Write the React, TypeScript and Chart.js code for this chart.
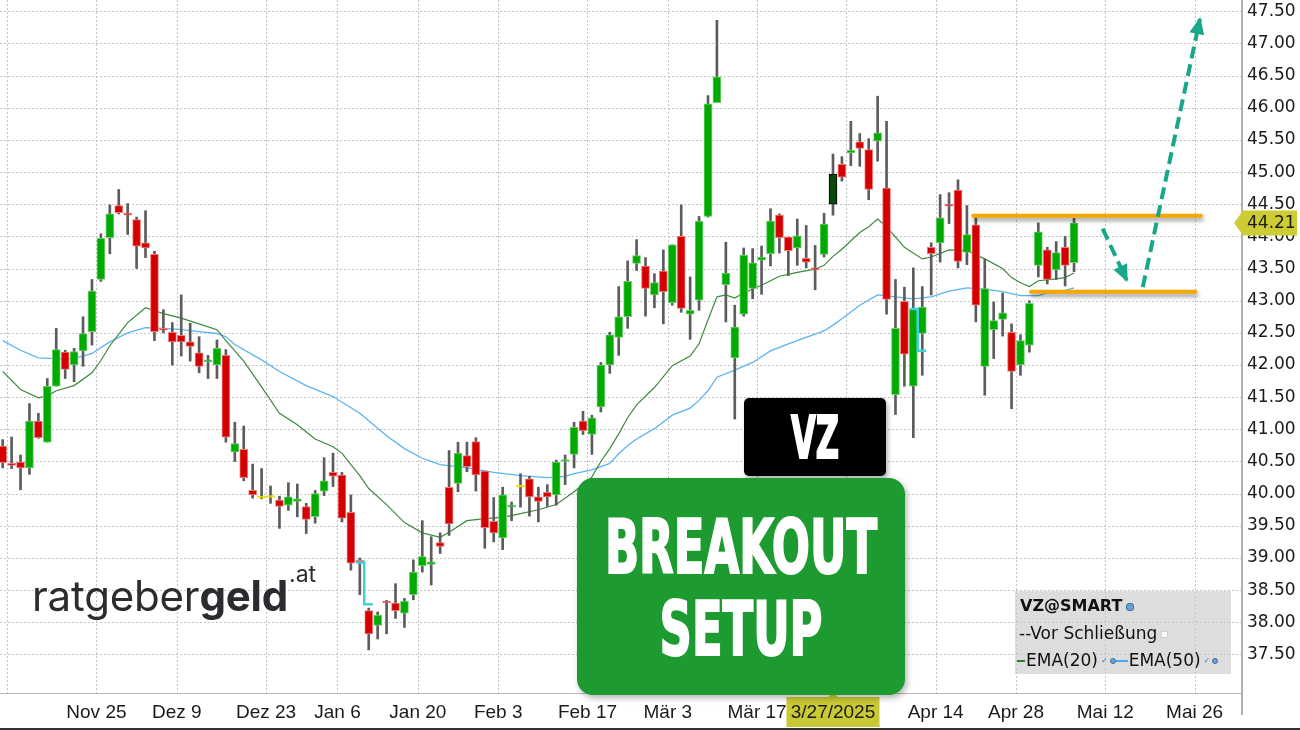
import React, { useEffect, useLayoutEffect, useRef, useState } from 'react';
import { Chart, registerables } from 'chart.js';

Chart.register(...registerables);

// Daily OHLC, index 0 = 8 Nov 2024 ... index 120 = 6 May 2025 (trading days)
const openP = [
  40.74, 40.47, 40.49, 40.40, 41.13, 40.80, 41.67, 42.20, 42.00, 42.22,
  42.52, 43.33, 43.98, 44.48, 44.36, 44.26, 43.90, 43.72, 42.57, 42.51,
  42.46, 42.36, 42.19, 42.05, 42.00, 42.15, 40.65, 40.69, 40.05, 39.93,
  39.94, 39.90, 39.82, 39.88, 39.80, 39.64, 40.04, 40.33, 40.29, 39.71,
  38.95, 38.18, 37.95, 38.33, 38.30, 38.14, 38.43, 38.88, 38.90, 39.24,
  40.10, 40.16, 40.59, 40.81, 40.35, 39.57, 39.31, 39.79, 40.10, 40.23,
  39.95, 40.02, 39.98, 40.50, 40.61, 41.13, 40.92, 41.35, 42.00, 42.43,
  42.75, 43.58, 43.54, 43.09, 43.46, 42.97, 44.00, 42.79, 43.01, 44.31,
  46.08, 43.25, 42.11, 42.79, 43.19, 43.63, 43.73, 44.33, 43.99, 43.82,
  43.66, 43.50, 43.72, 44.50, 45.12, 45.30, 45.47, 45.35, 45.48, 44.75,
  41.54, 42.99, 41.67, 42.49, 43.83, 43.90, 44.49, 44.72, 43.75, 44.18,
  41.98, 42.55, 42.71, 42.51, 42.00, 42.31, 43.55, 43.79, 43.48, 43.83,
  43.59,
];
const highP = [
  40.84, 40.88, 40.60, 41.40, 41.25, 41.79, 42.57, 42.23, 42.26, 42.75,
  43.33, 44.04, 44.49, 44.73, 44.51, 44.30, 44.40, 43.77, 42.86, 42.66,
  43.09, 42.65, 42.44, 42.15, 42.39, 42.24, 41.11, 41.05, 40.46, 40.39,
  40.12, 39.96, 40.17, 40.15, 39.85, 40.05, 40.56, 40.63, 40.33, 39.98,
  39.00, 38.22, 38.16, 38.34, 38.60, 38.37, 38.97, 39.58, 39.33, 39.39,
  40.67, 40.80, 40.80, 40.87, 40.35, 39.94, 40.10, 39.87, 40.31, 40.27,
  40.10, 40.14, 40.52, 40.60, 41.11, 41.28, 41.22, 42.04, 42.51, 43.22,
  43.62, 43.95, 43.67, 43.42, 43.79, 43.87, 44.49, 43.37, 44.31, 46.19,
  47.36, 43.91, 42.93, 43.82, 43.81, 43.85, 44.43, 44.35, 43.99, 44.27,
  44.17, 43.86, 44.36, 45.28, 45.24, 45.79, 45.60, 45.52, 46.18, 45.79,
  43.33, 43.21, 43.51, 43.22, 43.90, 44.65, 44.68, 44.88, 44.48, 44.29,
  43.65, 42.98, 43.12, 42.64, 42.47, 43.00, 44.21, 43.83, 43.92, 44.00,
  44.28,
];
const lowP = [
  40.40, 40.39, 40.06, 40.30, 40.86, 40.80, 41.67, 41.79, 41.74, 41.98,
  42.31, 43.30, 43.73, 44.35, 44.03, 43.50, 43.67, 42.38, 42.50, 42.00,
  42.14, 42.06, 41.88, 41.79, 41.79, 40.80, 40.50, 40.20, 39.93, 39.92,
  39.85, 39.46, 39.74, 39.64, 39.38, 39.54, 39.97, 40.11, 39.56, 38.81,
  38.43, 37.57, 37.74, 37.82, 38.06, 37.92, 38.35, 38.78, 38.58, 39.07,
  39.35, 40.03, 40.34, 40.04, 39.15, 39.25, 39.13, 39.58, 39.79, 39.65,
  39.56, 39.80, 39.82, 40.14, 40.40, 40.92, 40.61, 41.27, 41.87, 42.15,
  42.57, 43.47, 42.76, 42.89, 42.64, 42.93, 42.82, 42.40, 42.85, 44.30,
  46.08, 42.67, 41.16, 42.76, 43.03, 43.10, 43.54, 43.74, 43.39, 43.55,
  43.51, 43.17, 43.68, 44.33, 44.86, 45.10, 45.09, 44.57, 45.17, 42.79,
  41.23, 41.67, 40.87, 41.84, 43.09, 43.60, 44.20, 43.51, 43.56, 42.67,
  41.53, 42.10, 42.45, 41.32, 41.84, 42.20, 43.37, 43.26, 43.33, 43.23,
  43.45,
];
const closeP = [
  40.48, 40.44, 40.40, 41.13, 40.87, 41.67, 42.24, 41.93, 42.21, 42.49,
  43.15, 43.97, 44.35, 44.37, 44.33, 43.85, 43.82, 42.52, 42.54, 42.36,
  42.36, 42.29, 41.98, 42.07, 42.26, 40.88, 40.78, 40.25, 39.98, 39.93,
  39.94, 39.80, 39.95, 39.92, 39.60, 40.00, 40.20, 40.27, 39.62, 38.92,
  38.93, 37.82, 38.11, 38.30, 38.18, 38.33, 38.78, 39.02, 38.94, 39.18,
  39.53, 40.63, 40.42, 40.29, 39.47, 39.39, 39.98, 39.81, 40.10, 39.95,
  39.88, 39.95, 40.49, 40.53, 41.03, 40.98, 41.18, 42.00, 42.47, 42.75,
  43.30, 43.70, 43.19, 43.28, 43.14, 43.87, 42.88, 42.85, 44.24, 46.06,
  46.48, 43.43, 42.59, 43.71, 43.59, 43.68, 44.24, 43.98, 43.78, 44.01,
  43.60, 43.48, 44.19, 44.97, 44.92, 45.34, 45.37, 44.73, 45.61, 43.02,
  42.57, 42.17, 42.87, 42.90, 43.73, 44.29, 44.47, 43.61, 44.03, 42.93,
  43.19, 42.69, 42.81, 41.90, 42.38, 42.96, 44.07, 43.33, 43.75, 43.55,
  44.21,
];

// x-axis: grid/label positions (trading-day index) and their labels
const tickIdx = [1, 11, 20, 30, 38, 47, 56, 66, 75, 85, 95, 105, 114, 124, 134];
const tickLabels = ['', 'Nov 25', 'Dez 9', 'Dez 23', 'Jan 6', 'Jan 20', 'Feb 3', 'Feb 17', 'Mär 3', 'Mär 17', '', 'Apr 14', 'Apr 28', 'Mai 12', 'Mai 26'];
const priceTicks = [37.5, 38, 38.5, 39, 39.5, 40, 40.5, 41, 41.5, 42, 42.5, 43, 43.5, 44, 44.5, 45, 45.5, 46, 46.5, 47, 47.5];

// EMA readings (trading-day index, value)
const ema20Idx = [0, 2, 4, 5, 6, 8, 10, 11, 12, 14, 16, 18, 20, 22, 24, 25, 27, 29, 31, 33, 35, 37, 38, 39, 40, 41, 43, 45, 47, 49, 50, 52, 54, 56, 58, 60, 62, 64, 66, 67, 68, 69, 70, 71, 73, 75, 77, 78, 79, 80, 81, 82, 83, 85, 87, 89, 91, 92, 93, 94, 96, 97, 98, 99, 101, 103, 104, 106, 108, 110, 112, 113, 114, 115, 116, 118, 119, 120];
const ema20Val = [41.90, 41.62, 41.49, 41.52, 41.60, 41.68, 41.88, 42.07, 42.30, 42.66, 42.89, 42.80, 42.73, 42.64, 42.55, 42.38, 42.06, 41.66, 41.25, 41.07, 40.85, 40.73, 40.63, 40.45, 40.28, 40.08, 39.83, 39.55, 39.39, 39.32, 39.40, 39.58, 39.61, 39.63, 39.69, 39.75, 39.83, 40.03, 40.26, 40.50, 40.70, 40.93, 41.18, 41.38, 41.65, 41.99, 42.14, 42.33, 42.70, 43.06, 43.09, 43.04, 43.12, 43.24, 43.38, 43.44, 43.49, 43.55, 43.69, 43.80, 44.06, 44.15, 44.27, 44.15, 43.83, 43.65, 43.68, 43.79, 43.78, 43.65, 43.50, 43.36, 43.28, 43.22, 43.31, 43.34, 43.36, 43.43];
const ema50Idx = [0, 2, 4, 6, 8, 10, 12, 14, 16, 18, 20, 22, 24, 25, 26, 29, 31, 34, 37, 40, 43, 45, 47, 49, 52, 55, 58, 61, 63, 64, 66, 68, 69, 70, 71, 73, 75, 77, 78, 79, 80, 82, 84, 86, 88, 90, 92, 93, 94, 96, 98, 100, 102, 104, 106, 108, 110, 112, 114, 116, 117, 119, 120];
const ema50Val = [42.38, 42.23, 42.11, 42.10, 42.10, 42.18, 42.36, 42.50, 42.58, 42.57, 42.55, 42.52, 42.49, 42.44, 42.32, 42.08, 41.90, 41.68, 41.51, 41.25, 40.90, 40.70, 40.55, 40.45, 40.40, 40.33, 40.28, 40.25, 40.27, 40.31, 40.37, 40.47, 40.62, 40.75, 40.85, 41.01, 41.22, 41.33, 41.45, 41.60, 41.81, 41.92, 42.04, 42.22, 42.33, 42.43, 42.53, 42.62, 42.72, 42.93, 43.09, 43.06, 43.03, 43.06, 43.15, 43.20, 43.18, 43.14, 43.08, 43.08, 43.12, 43.16, 43.20];

// Dividend gap markers (ex-date index, amount)
const divIdx = [41, 103];
const divAmt = [0.65, 0.65];

// selected date
const highlightIdx = 93;
const highlightLabel = '3/27/2025';

// drawn levels and arrows (index, price)
const resistanceLevel = 44.32;
const resistanceRange = [108.7, 134.2];
const supportLevel = 43.14;
const supportRange = [115.2, 133.6];
const arrowDownIdx = [123.2, 125.9];
const arrowDownVal = [44.12, 43.32];
const arrowUpIdx = [127.7, 134.1];
const arrowUpVal = [43.21, 47.38];

const xMin = -0.3;
const xMax = 138.7;
const yMin = 36.9;
const yMax = 47.676;

const HEAVY = '"DejaVu Sans Condensed", "DejaVu Sans", sans-serif';

function FitText({ text, width, top, size }: { text: string; width: number; top: number; size: number }) {
  const ref = useRef<HTMLSpanElement>(null);
  const [sx, setSx] = useState(1);
  useLayoutEffect(() => {
    if (ref.current && ref.current.offsetWidth > 0) setSx(width / ref.current.offsetWidth);
  }, [text, width]);
  return (
    <span
      ref={ref}
      style={{
        position: 'absolute',
        left: '50%',
        top,
        transform: `translateX(-50%) scaleX(${sx})`,
        transformOrigin: 'center',
        whiteSpace: 'nowrap',
        fontFamily: HEAVY,
        fontStretch: 'condensed',
        fontWeight: 700,
        fontSize: size,
        lineHeight: 1,
        color: '#ffffff',
        WebkitTextStroke: '2px #ffffff',
      }}
    >
      {text}
    </span>
  );
}

export default function App() {
  const canvasRef = useRef<HTMLCanvasElement>(null);

  useEffect(() => {
    document.body.style.margin = '0';
    const canvas = canvasRef.current;
    if (!canvas) return;
    const idx = closeP.map((_, i) => i);
    const fill = (i: number) =>
      i === highlightIdx ? '#0c4a0c' : closeP[i] > openP[i] ? '#00aa00' : closeP[i] < openP[i] ? '#d40000' : '#f0e000';
    const edge = (i: number) =>
      i === highlightIdx ? '#050505' : closeP[i] > openP[i] ? '#6ccf6c' : closeP[i] < openP[i] ? '#ee7b7b' : '#f0e000';

    const divSets = divIdx.map((d, j) => {
      const pc = closeP[d - 1];
      const adj = pc - divAmt[j];
      return {
        type: 'line',
        label: 'div',
        data: [
          { x: d - 1.4, y: pc },
          { x: d - 0.5, y: pc },
          { x: d - 0.5, y: adj },
          { x: d + 0.45, y: adj },
        ],
        borderColor: '#3ed2de',
        borderWidth: 2.5,
        pointRadius: 0,
        order: 2,
      };
    });

    const deco = {
      id: 'deco',
      beforeDatasetsDraw(chart: any) {
        const { ctx, chartArea: a, scales } = chart;
        const x = scales.x;
        const y = scales.y;
        ctx.save();
        ctx.strokeStyle = '#c4c4c4';
        ctx.lineWidth = 1;
        ctx.setLineDash([2, 2]);
        for (const v of priceTicks) {
          const py = Math.round(y.getPixelForValue(v)) + 0.5;
          ctx.beginPath();
          ctx.moveTo(a.left, py);
          ctx.lineTo(a.right, py);
          ctx.stroke();
        }
        for (const k of tickIdx) {
          const px = Math.round(x.getPixelForValue(k - 0.5)) + 0.5;
          ctx.beginPath();
          ctx.moveTo(px, a.top);
          ctx.lineTo(px, a.bottom);
          ctx.stroke();
        }
        ctx.restore();
      },
      beforeDatasetDraw(chart: any, args: any) {
        const ds = chart.data.datasets[args.index];
        if (ds.label === 'level') {
          const c = chart.ctx;
          c.save();
          c.shadowColor = 'rgba(0,0,0,0.4)';
          c.shadowBlur = 4;
          c.shadowOffsetX = 1;
          c.shadowOffsetY = 3;
        }
      },
      afterDatasetDraw(chart: any, args: any) {
        const ds = chart.data.datasets[args.index];
        const c = chart.ctx;
        if (ds.label === 'level') c.restore();
        if (ds.label === 'arrow') {
          const pts = args.meta.data;
          const p1 = pts[pts.length - 2];
          const p2 = pts[pts.length - 1];
          const ang = Math.atan2(p2.y - p1.y, p2.x - p1.x);
          const L = 15;
          const W = 7.5;
          c.save();
          c.fillStyle = ds.borderColor;
          c.beginPath();
          c.moveTo(p2.x + 2 * Math.cos(ang), p2.y + 2 * Math.sin(ang));
          c.lineTo(p2.x - L * Math.cos(ang) + W * Math.sin(ang), p2.y - L * Math.sin(ang) - W * Math.cos(ang));
          c.lineTo(p2.x - L * Math.cos(ang) - W * Math.sin(ang), p2.y - L * Math.sin(ang) + W * Math.cos(ang));
          c.closePath();
          c.fill();
          c.restore();
        }
      },
      afterDraw(chart: any) {
        const { ctx, chartArea: a, scales } = chart;
        const x = scales.x;
        const y = scales.y;
        ctx.save();
        ctx.strokeStyle = '#b8b8b8';
        ctx.lineWidth = 1;
        ctx.beginPath();
        ctx.moveTo(a.left, a.bottom + 0.5);
        ctx.lineTo(a.right, a.bottom + 0.5);
        ctx.stroke();
        ctx.lineWidth = 2;
        ctx.strokeStyle = '#b0b0b0';
        ctx.beginPath();
        ctx.moveTo(a.right + 1, 0);
        ctx.lineTo(a.right + 1, a.bottom + 22);
        ctx.stroke();

        // current price label
        const last = closeP[closeP.length - 1];
        const py = y.getPixelForValue(last);
        const tip = a.right - 7;
        ctx.fillStyle = '#cccc34';
        ctx.beginPath();
        ctx.moveTo(tip, py);
        ctx.lineTo(tip + 9, py - 12.5);
        ctx.lineTo(1297, py - 12.5);
        ctx.lineTo(1297, py + 12.5);
        ctx.lineTo(tip + 9, py + 12.5);
        ctx.closePath();
        ctx.fill();
        ctx.fillStyle = '#1a1a1a';
        ctx.font = '17px "DejaVu Sans"';
        ctx.textAlign = 'left';
        ctx.textBaseline = 'middle';
        ctx.fillText(last.toFixed(2), a.right + 6, py + 1);

        // selected date label
        const cx = x.getPixelForValue(highlightIdx);
        ctx.fillStyle = '#c9c935';
        ctx.fillRect(cx - 46.5, a.bottom + 4, 93, 30);
        ctx.beginPath();
        ctx.moveTo(cx - 5, a.bottom + 4);
        ctx.lineTo(cx, a.bottom);
        ctx.lineTo(cx + 5, a.bottom + 4);
        ctx.closePath();
        ctx.fill();
        ctx.fillStyle = '#1a1a1a';
        ctx.font = '19px "Liberation Sans", Arial, sans-serif';
        ctx.textAlign = 'center';
        ctx.fillText(highlightLabel, cx, a.bottom + 20);
        ctx.restore();
      },
    };

    const chart = new Chart(canvas, {
      type: 'bar',
      data: {
        datasets: [
          {
            type: 'line',
            label: 'ema20',
            data: ema20Idx.map((k, i) => ({ x: k, y: ema20Val[i] })),
            borderColor: '#3d8a3d',
            borderWidth: 1.2,
            pointRadius: 0,
            order: 8,
          },
          {
            type: 'line',
            label: 'ema50',
            data: ema50Idx.map((k, i) => ({ x: k, y: ema50Val[i] })),
            borderColor: '#5cb3f2',
            borderWidth: 1.3,
            pointRadius: 0,
            order: 9,
          },
          {
            type: 'bar',
            label: 'wick',
            data: idx.map((i) => ({ x: i, y: [lowP[i], highP[i]] })),
            backgroundColor: '#5c5c5c',
            barThickness: 2,
            grouped: false,
            order: 6,
          },
          {
            type: 'bar',
            label: 'body',
            data: idx.map((i) => ({ x: i, y: [openP[i], closeP[i]] })),
            backgroundColor: idx.map(fill),
            borderColor: idx.map(edge),
            borderWidth: 1,
            borderSkipped: false,
            barThickness: 8,
            minBarLength: 2,
            grouped: false,
            order: 5,
          },
          ...divSets,
          {
            type: 'line',
            label: 'level',
            data: resistanceRange.map((k) => ({ x: k, y: resistanceLevel })),
            borderColor: '#f5a800',
            borderWidth: 4,
            borderCapStyle: 'round',
            pointRadius: 0,
            order: 1,
          },
          {
            type: 'line',
            label: 'level',
            data: supportRange.map((k) => ({ x: k, y: supportLevel })),
            borderColor: '#f5a800',
            borderWidth: 4,
            borderCapStyle: 'round',
            pointRadius: 0,
            order: 1,
          },
          {
            type: 'line',
            label: 'arrow',
            data: arrowDownIdx.map((k, i) => ({ x: k, y: arrowDownVal[i] })),
            borderColor: '#17a88c',
            borderWidth: 4,
            borderDash: [12, 6],
            pointRadius: 0,
            order: 0,
          },
          {
            type: 'line',
            label: 'arrow',
            data: arrowUpIdx.map((k, i) => ({ x: k, y: arrowUpVal[i] })),
            borderColor: '#17a88c',
            borderWidth: 4,
            borderDash: [12, 6],
            pointRadius: 0,
            order: 0,
          },
        ] as any,
      },
      options: {
        animation: false,
        responsive: true,
        maintainAspectRatio: false,
        events: [],
        layout: { padding: 0 },
        plugins: { legend: { display: false }, tooltip: { enabled: false } },
        scales: {
          x: {
            type: 'linear',
            min: xMin,
            max: xMax,
            offset: false,
            grid: { display: false, drawTicks: false },
            border: { display: false },
            afterBuildTicks: (s: any) => {
              s.ticks = tickIdx.map((k) => ({ value: k - 0.5 }));
            },
            afterFit: (s: any) => {
              s.height = 37;
              s.paddingLeft = 0;
              s.paddingRight = 0;
            },
            ticks: {
              autoSkip: false,
              maxRotation: 0,
              minRotation: 0,
              padding: 8,
              color: '#1a1a1a',
              font: { family: '"Liberation Sans", Arial, sans-serif', size: 19 },
              callback: (_v: any, i: number) => tickLabels[i],
            },
          },
          y: {
            position: 'right',
            min: yMin,
            max: yMax,
            grid: { display: false, drawTicks: false },
            border: { display: false },
            afterBuildTicks: (s: any) => {
              s.ticks = priceTicks.map((v) => ({ value: v }));
            },
            afterFit: (s: any) => {
              s.width = 59;
              s.paddingTop = 0;
              s.paddingBottom = 0;
            },
            ticks: {
              padding: 6,
              color: '#1a1a1a',
              font: { family: '"DejaVu Sans", Verdana, sans-serif', size: 17 },
              callback: (v: any) => Number(v).toFixed(2),
            },
          },
        },
      } as any,
      plugins: [deco],
    });
    return () => chart.destroy();
  }, []);

  const dot: React.CSSProperties = {
    display: 'inline-block',
    width: 6,
    height: 6,
    borderRadius: 3,
    background: '#6f9fcf',
    border: '1px solid #3f6f9f',
    marginLeft: 4,
    verticalAlign: 'middle',
  };

  return (
    <div style={{ position: 'absolute', left: 0, top: 0, width: 1300, height: 730, background: '#ffffff', overflow: 'hidden' }}>
      <div style={{ position: 'absolute', left: 0, top: 0, width: 1300, height: 730 }}>
        <canvas ref={canvasRef} />
      </div>

      {/* logo */}
      <div style={{ position: 'absolute', left: 32, top: 575, fontFamily: 'Inter, "Noto Sans", sans-serif', fontSize: 42, lineHeight: 1, color: '#2b2b30', letterSpacing: -0.2, whiteSpace: 'nowrap' }}>
        ratgeber<span style={{ fontWeight: 700 }}>geld</span>
      </div>
      <div style={{ position: 'absolute', left: 289, top: 563, fontFamily: 'Inter, "Noto Sans", sans-serif', fontSize: 23, lineHeight: 1, color: '#2b2b30' }}>.at</div>

      {/* legend */}
      <div style={{ position: 'absolute', left: 1015, top: 591, width: 216, height: 83, background: 'rgba(200,200,200,0.62)' }} />
      <div style={{ position: 'absolute', left: 1020, top: 596, height: 20, lineHeight: '20px', fontFamily: '"DejaVu Sans", sans-serif', fontSize: 16, fontWeight: 700, color: '#111', whiteSpace: 'nowrap' }}>
        VZ@SMART<span style={dot} />
      </div>
      <div style={{ position: 'absolute', left: 1019, top: 623, height: 20, lineHeight: '20px', fontFamily: '"DejaVu Sans", sans-serif', fontSize: 17, color: '#111', whiteSpace: 'nowrap' }}>
        --Vor Schließung<span style={{ display: 'inline-block', width: 5, height: 5, background: '#fff', border: '1px solid #ccc', marginLeft: 4, verticalAlign: 'middle' }} />
      </div>
      <div style={{ position: 'absolute', left: 1017, top: 650, height: 20, lineHeight: '20px', fontFamily: '"DejaVu Sans", sans-serif', fontSize: 17, color: '#111', whiteSpace: 'nowrap' }}>
        <span style={{ display: 'inline-block', width: 8, height: 2, background: '#2e7d2e', verticalAlign: 'middle', marginRight: 1 }} />
        EMA(20)
        <span style={{ fontSize: 8, color: '#3a6fd0', marginLeft: 3, verticalAlign: 'middle' }}>✓</span>
        <span style={{ ...dot, width: 4, height: 4, marginLeft: 2 }} />
        <span style={{ display: 'inline-block', width: 12, height: 2, background: '#4aa8f0', verticalAlign: 'middle', marginRight: 1 }} />
        EMA(50)
        <span style={{ fontSize: 8, color: '#3a6fd0', marginLeft: 3, verticalAlign: 'middle' }}>✓</span>
        <span style={{ ...dot, width: 4, height: 4, marginLeft: 2 }} />
      </div>

      {/* VZ box */}
      <div style={{ position: 'absolute', left: 744, top: 398, width: 142, height: 78, background: '#000', borderRadius: 5, boxShadow: '2px 3px 5px rgba(0,0,0,0.3)' }}>
        <FitText text="VZ" width={48} top={11} size={58} />
      </div>

      {/* breakout box */}
      <div style={{ position: 'absolute', left: 577, top: 478, width: 328, height: 217, background: '#1e9b30', borderRadius: 16, boxShadow: '2px 3px 6px rgba(0,0,0,0.3)' }}>
        <FitText text="BREAKOUT" width={272} top={32} size={74} />
        <FitText text="SETUP" width={163} top={114} size={74} />
      </div>

      {/* bottom frame strip */}
      <div style={{ position: 'absolute', left: 0, top: 728, width: 1300, height: 2, background: '#333' }} />
    </div>
  );
}
